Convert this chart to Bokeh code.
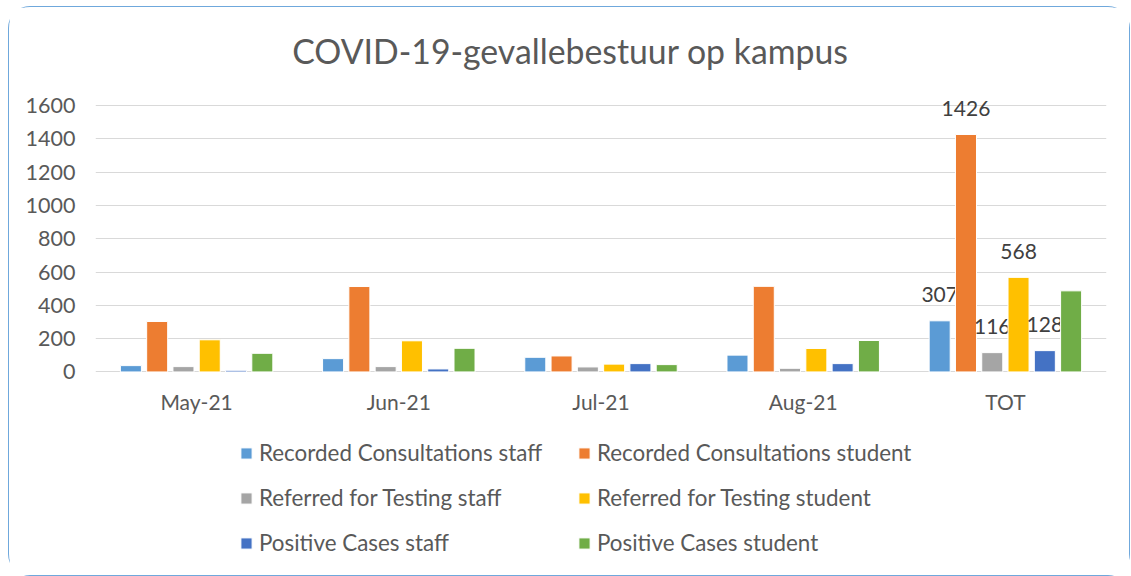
from bokeh.plotting import figure
from bokeh.models import (ColumnDataSource, FactorRange, Range1d, Legend, LegendItem,
                          Label, FixedTicker)
from bokeh.transform import dodge
from bokeh.embed import file_html
from bokeh.resources import INLINE
from bokeh.core.properties import value

title = "COVID-19-gevallebestuur op kampus"
categories = ["May-21", "Jun-21", "Jul-21", "Aug-21", "TOT"]
series_names = [
    "Recorded Consultations staff",
    "Recorded Consultations student",
    "Referred for Testing staff",
    "Referred for Testing student",
    "Positive Cases staff",
    "Positive Cases student",
]
consult_staff = [38, 80, 88, 101, 307]
consult_student = [303, 513, 96, 514, 1426]
testing_staff = [32, 32, 30, 22, 116]
testing_student = [193, 187, 47, 141, 568]
positive_staff = [10, 18, 50, 50, 128]
positive_student = [112, 142, 44, 189, 487]
series_values = [consult_staff, consult_student, testing_staff,
                 testing_student, positive_staff, positive_student]
labelled = [True, True, True, True, True, False]
colors = ["#5B9BD5", "#ED7D31", "#A5A5A5", "#FFC000", "#4472C4", "#70AD47"]
y_ticks = [0, 200, 400, 600, 800, 1000, 1200, 1400, 1600]

FONT = "Lato"
TXT = "#595959"

# layout, in screen pixels measured from the canvas top-left
W, H = 1122, 570
CANVAS_W, CANVAS_H = W - 3, H - 3
B_LEFT, B_RIGHT, B_TOP, B_BOTTOM = 86, 25, 2, 10
zero_px = 362.5      # value axis zero
top_tick_px = 97.5   # value axis top tick
title_base_px = 43.5
title_center_px = 559.5
frame_top, frame_bottom = B_TOP, CANVAS_H - B_BOTTOM
scale = y_ticks[-1] / (zero_px - top_tick_px)
y_max = y_ticks[-1] + (top_tick_px - frame_top) * scale
y_min = -(frame_bottom - zero_px) * scale
title_y = y_ticks[-1] + (top_tick_px - title_base_px) * scale
title_x = len(categories) * (title_center_px - B_LEFT) / (CANVAS_W - B_LEFT - B_RIGHT)

p = figure(x_range=FactorRange(*categories, range_padding=0),
           y_range=Range1d(y_min, y_max),
           width=W, height=H, output_backend="svg", toolbar_location=None,
           min_border_left=B_LEFT, min_border_right=B_RIGHT, min_border_top=B_TOP,
           min_border_bottom=B_BOTTOM)
p.styles = {"margin-left": "8px", "margin-top": "6px",
            "border": "1.5px solid #6FA8DC", "border-radius": "22px"}
p.outline_line_color = None
p.background_fill_color = "white"
p.border_fill_color = "white"

p.xgrid.grid_line_color = None
p.ygrid.grid_line_color = "#D9D9D9"
p.ygrid.grid_line_width = 1.2
p.xaxis.visible = False

p.yaxis.ticker = FixedTicker(ticks=y_ticks)
p.yaxis.axis_line_color = None
p.yaxis.major_tick_line_color = None
p.yaxis.minor_tick_line_color = None
p.yaxis.major_label_standoff = 14
p.yaxis.major_label_text_font = FONT
p.yaxis.major_label_text_font_size = "21.5px"
p.yaxis.major_label_text_color = TXT

n = len(series_names)
pitch = 0.13
bar_w = 0.104
renderers = []
for i, (name, vals, col, lab) in enumerate(zip(series_names, series_values, colors, labelled)):
    off = (i - (n - 1) / 2) * pitch
    src = ColumnDataSource(dict(cat=categories, val=vals))
    r = p.vbar(x=dodge("cat", off, range=p.x_range), top="val", width=bar_w,
               source=src, fill_color=col, line_color="white", line_width=1)
    renderers.append(r)
    if lab:
        lsrc = ColumnDataSource(dict(cat=[categories[-1]], val=[vals[-1]],
                                     txt=[str(vals[-1])]))
        p.text(x=dodge("cat", off, range=p.x_range), y="val", text="txt", source=lsrc,
               text_align="center", text_baseline="alphabetic", y_offset=-26,
               text_font=value(FONT), text_font_size="21px", text_color="#404040")

# category labels under the zero line
csrc = ColumnDataSource(dict(cat=categories, zero=[0] * len(categories)))
p.text(x="cat", y="zero", text="cat", source=csrc, text_align="center",
       text_baseline="middle", y_offset=30, text_font=value(FONT),
       text_font_size="21px", text_color=TXT)

p.add_layout(Label(x=title_x, y=title_y, text=title, text_align="center",
                   text_baseline="alphabetic", text_font=FONT,
                   text_font_size="33.8px", text_color=TXT))

for c, x0 in enumerate([144, 482]):
    items = [LegendItem(label=series_names[k], renderers=[renderers[k]])
             for k in range(c, n, 2)]
    leg = Legend(items=items, location=(x0, 11), orientation="vertical",
                 glyph_width=14, glyph_height=14, label_height=24, spacing=18,
                 label_standoff=6, padding=0, margin=0,
                 border_line_color=None, background_fill_alpha=0,
                 label_text_font=FONT, label_text_font_size="22.4px",
                 label_text_color=TXT)
    p.add_layout(leg, "center")

open("out.html", "w").write(file_html(p, INLINE))
